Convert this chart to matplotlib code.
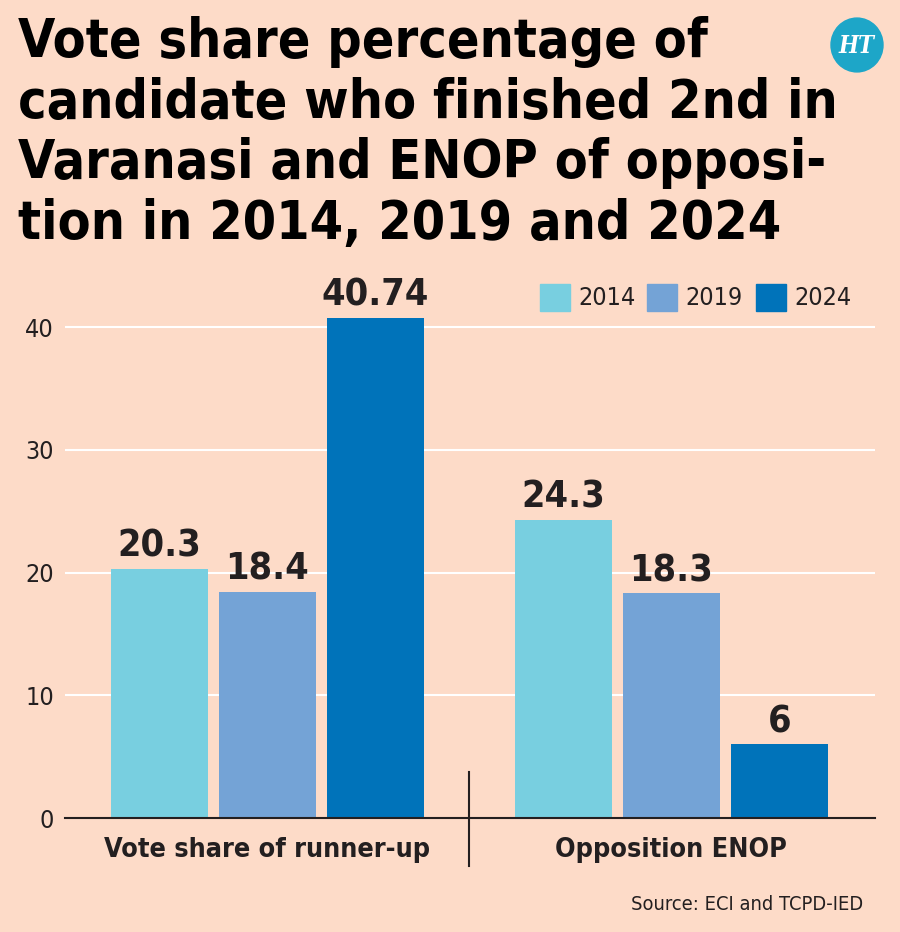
import matplotlib.pyplot as plt
from matplotlib import font_manager
from matplotlib.patches import Circle, Rectangle
import numpy as np

# data
categories = ["Vote share of runner-up", "Opposition ENOP"]
years = ["2014", "2019", "2024"]
values_2014 = [20.3, 24.3]
values_2019 = [18.4, 18.3]
values_2024 = [40.74, 6]
labels_2014 = ["20.3", "24.3"]
labels_2019 = ["18.4", "18.3"]
labels_2024 = ["40.74", "6"]
yticks = [0, 10, 20, 30, 40]

bg = "#fddbc8"
colors = ["#78cfe0", "#74a3d6", "#0073ba"]
dark = "#231f20"

# narrow font if there is one, else condensed DejaVu
names = {f.name for f in font_manager.fontManager.ttflist}
if "Liberation Sans Narrow" in names:
    fam = ["Liberation Sans Narrow", "DejaVu Sans"]
    stretch = "normal"
    k = 1.0
else:
    fam = ["DejaVu Sans"]
    stretch = "condensed"
    k = 0.92
plt.rcParams["font.family"] = fam
plt.rcParams["font.stretch"] = stretch

fig = plt.figure(figsize=(9, 9.32), dpi=100, facecolor=bg)
ax = fig.add_axes([0.0722, 0.1223, 0.9, 0.5795])
ax.set_facecolor(bg)

x = np.arange(len(categories))
step = 0.2673
width = 0.24
series = [values_2014, values_2019, values_2024]
series_labels = [labels_2014, labels_2019, labels_2024]
for i, (vals, labs) in enumerate(zip(series, series_labels)):
    pos = x + (i - 1) * step
    ax.bar(pos, vals, width, color=colors[i], zorder=3)
    for p, v, l in zip(pos, vals, labs):
        ax.text(p, v + 0.35, l, ha="center", va="bottom", fontsize=29.5 * k,
                fontweight="bold", color=dark, zorder=4, fontstretch=stretch)

ax.set_xlim(-0.501, 1.504)
ax.set_ylim(0, 44)
for t in yticks[1:]:
    ax.axhline(t, color="white", lw=1.5, zorder=1)
ax.axhline(0, color=dark, lw=1.5, zorder=5, clip_on=False)
ax.plot([0.5, 0.5], [3.75, -3.9], color=dark, lw=1.5, clip_on=False, zorder=5)

ax.set_yticks(yticks)
ax.set_yticklabels([str(t) for t in yticks], fontsize=18, color=dark,
                   fontstretch=stretch)
ax.tick_params(axis="y", length=0, pad=8)
ax.set_xticks(x)
ax.set_xticklabels(categories, fontsize=21 * k, fontweight="bold", color=dark,
                   fontstretch=stretch)
ax.tick_params(axis="x", length=0, pad=14)
for s in ax.spines.values():
    s.set_visible(False)

# legend
lx = [540, 647, 756]
for i, yr in enumerate(years):
    fig.patches.append(Rectangle((lx[i] / 900, 1 - 311 / 932), 30 / 900, 27 / 932,
                                 transform=fig.transFigure, color=colors[i]))
    fig.text((lx[i] + 38) / 900, 1 - 298 / 932, yr, fontsize=18, color=dark,
             va="center", ha="left", fontstretch=stretch)

# title
title = ("Vote share percentage of\ncandidate who finished 2nd in\n"
         "Varanasi and ENOP of opposi-\ntion in 2014, 2019 and 2024")
fig.text(18 / 900, 1 - 16 / 932, title, fontsize=42 * k, fontweight="bold",
         color="black", va="top", ha="left", linespacing=1.21,
         fontstretch=stretch)

# logo
fig.patches.append(Circle((857 / 900, 1 - 45 / 932), 26 / 900,
                          transform=fig.transFigure, color="#1da6c8"))
fig.text(857 / 900, 1 - 46 / 932, "HT", fontsize=17, color="white",
         ha="center", va="center", family="DejaVu Serif", style="italic",
         fontweight="bold")

fig.text(863 / 900, 1 - 905 / 932, "Source: ECI and TCPD-IED", fontsize=15.7 * k,
         color=dark, ha="right", va="center", fontstretch=stretch)

fig.savefig("out.png", dpi=100, facecolor=bg)
